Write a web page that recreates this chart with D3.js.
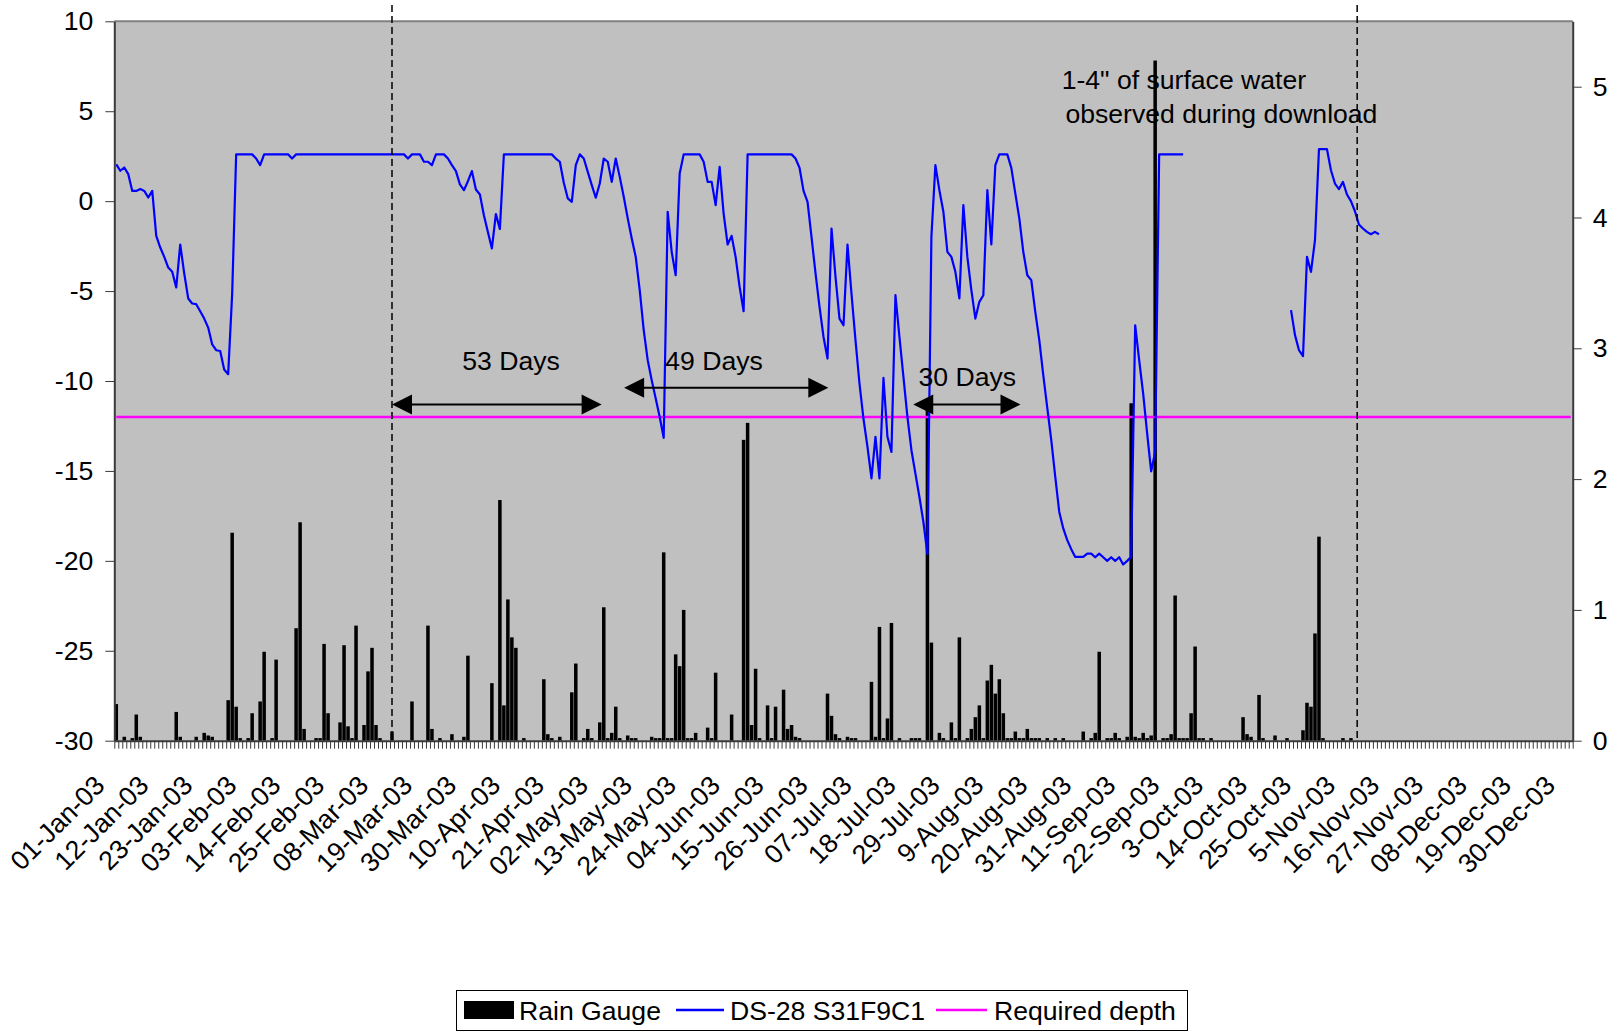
<!DOCTYPE html>
<html><head><meta charset="utf-8">
<script src="https://cdn.jsdelivr.net/npm/d3@7"></script>
<style>
body{margin:0;background:#fff}
svg{display:block}
text{font-family:"Liberation Sans",Arial,sans-serif;fill:#000}
</style>
</head><body>
<svg id="c" width="1621" height="1034"></svg>
<script>
// ---------- DATA ----------
// Daily water level (inches) for DS-28 S31F9C1, day 0 = 01-Jan-03; null = no data
const levelDepth = [
 2.04,1.69,1.87,1.5,0.57,0.57,0.67,0.57,0.2,0.57,
 -1.93,-2.58,-3.1,-3.69,-3.93,-4.8,-2.41,-4.02,-5.41,-5.69,
 -5.73,-6.12,-6.53,-7.03,-7.97,-8.29,-8.33,-9.36,-9.62,-5.14,
 2.6,2.6,2.6,2.6,2.6,2.37,2.0,2.6,2.6,2.6,
 2.6,2.6,2.6,2.6,2.37,2.6,2.6,2.6,2.6,2.6,
 2.6,2.6,2.6,2.6,2.6,2.6,2.6,2.6,2.6,2.6,
 2.6,2.6,2.6,2.6,2.6,2.6,2.6,2.6,2.6,2.6,
 2.6,2.6,2.6,2.37,2.6,2.6,2.6,2.19,2.19,2.0,
 2.6,2.6,2.6,2.37,2.0,1.67,0.93,0.61,1.11,1.67,
 0.65,0.37,-0.78,-1.71,-2.63,-0.72,-1.54,2.6,2.6,2.6,
 2.6,2.6,2.6,2.6,2.6,2.6,2.6,2.6,2.6,2.6,
 2.37,2.19,1.02,0.15,-0.04,2.0,2.6,2.37,1.63,0.89,
 0.19,0.98,2.37,2.19,1.07,2.37,1.35,0.24,-0.96,-2.08,
 -3.1,-4.95,-7.17,-8.84,-9.96,-10.97,-12.0,-13.16,-0.59,-2.82,
 -4.12,1.54,2.6,2.6,2.6,2.6,2.6,2.19,1.07,1.07,
 -0.22,1.91,-0.69,-2.41,-1.93,-3.1,-4.77,-6.12,2.6,2.6,
 2.6,2.6,2.6,2.6,2.6,2.6,2.6,2.6,2.6,2.6,
 2.37,1.85,0.57,-0.04,-2.0,-4.02,-5.88,-7.55,-8.75,-1.52,
 -4.21,-6.53,-6.9,-2.41,-5.14,-7.73,-10.14,-12.1,-13.66,-15.42,
 -13.1,-15.42,-9.83,-13.1,-13.94,-5.23,-7.55,-9.77,-12.0,-13.85,
 -15.15,-16.45,-17.84,-19.63,-1.98,2.0,0.61,-0.59,-2.82,-3.1,
 -3.93,-5.41,-0.22,-3.1,-4.95,-6.53,-5.6,-5.23,0.61,-2.41,
 2.0,2.6,2.6,2.6,1.85,0.43,-0.96,-2.82,-4.12,-4.39,
 -6.16,-7.73,-9.68,-11.5,-13.29,-15.33,-17.28,-18.2,-18.85,-19.35,
 -19.78,-19.78,-19.78,-19.6,-19.6,-19.8,-19.6,-19.8,-20.0,-19.8,
 -20.0,-19.8,-20.2,-20.0,-19.78,-6.9,-8.84,-10.7,-12.92,-15.02,
 -13.94,2.6,2.6,2.6,2.6,2.6,2.6,2.6,null,null,
 null,null,null,null,null,null,null,null,null,null,
 null,null,null,null,null,null,null,null,null,null,
 null,null,null,null,-6.06,-7.45,-8.29,-8.62,-3.1,-3.93,
 -2.17,2.89,2.89,2.89,1.72,0.98,0.67,1.07,0.37,0.0,
 -0.56,-1.3,-1.52,-1.71,-1.84,-1.71,-1.84
];
// Rain gauge (inches): day index and daily total
const rainDay = [0,2,4,5,6,15,16,20,22,23,24,28,29,30,31,33,34,36,37,39,40,45,46,47,50,51,52,53,56,57,58,59,60,62,63,64,65,66,69,74,
 78,79,81,84,87,88,94,96,97,98,99,100,102,107,108,109,111,114,115,117,118,119,121,122,123,124,125,126,128,129,130,134,135,136,137,138,139,140,141,142,143,144,145,148,149,150,154,157,158,159,160,161,163,164,165,167,168,169,170,171,
 178,179,180,181,183,184,185,189,190,191,192,193,194,196,199,200,201,203,204,206,207,209,210,211,213,214,215,216,217,218,219,220,221,222,223,224,225,226,227,228,229,230,231,233,235,237,
 242,244,245,246,248,249,250,251,253,254,255,256,257,258,259,260,262,263,264,265,266,267,268,269,270,271,272,274,282,283,284,286,287,290,293,297,298,299,300,301,302,307,309];
const rainInches = [0.28,0.03,0.02,0.2,0.03,0.22,0.03,0.03,0.06,0.04,0.03,0.31,1.59,0.26,0.02,0.02,0.21,0.3,0.68,0.02,0.62,0.86,1.67,0.09,0.02,0.02,0.74,0.21,0.14,0.73,0.11,0.02,0.88,0.12,0.53,0.71,0.12,0.02,0.07,0.3,
 0.88,0.09,0.02,0.05,0.03,0.65,0.44,1.84,0.27,1.08,0.79,0.71,0.02,0.47,0.05,0.02,0.03,0.37,0.59,0.02,0.09,0.02,0.14,1.02,0.02,0.06,0.26,0.02,0.04,0.02,0.02,0.03,0.02,0.02,1.44,0.02,0.02,0.66,0.57,1.0,0.02,0.02,0.06,0.1,0.02,0.52,0.2,2.3,2.43,0.12,0.55,0.02,0.27,0.02,0.26,0.39,0.09,0.12,0.03,0.02,
 0.36,0.19,0.05,0.02,0.03,0.02,0.02,0.45,0.03,0.87,0.02,0.17,0.9,0.02,0.02,0.02,0.02,2.53,0.75,0.06,0.02,0.14,0.02,0.79,0.02,0.09,0.18,0.27,0.02,0.46,0.58,0.36,0.47,0.21,0.02,0.02,0.07,0.02,0.02,0.09,0.02,0.02,0.02,0.02,0.02,0.02,
 0.07,0.02,0.06,0.68,0.02,0.02,0.06,0.02,0.03,2.58,0.03,0.02,0.06,0.02,0.04,5.2,0.02,0.02,0.05,1.11,0.02,0.02,0.02,0.21,0.72,0.02,0.02,0.02,0.18,0.05,0.03,0.35,0.02,0.04,0.02,0.08,0.29,0.26,0.82,1.56,0.02,0.02,0.02];
const requiredDepth = -12;
const tickLabels = ["01-Jan-03","12-Jan-03","23-Jan-03","03-Feb-03","14-Feb-03","25-Feb-03","08-Mar-03","19-Mar-03","30-Mar-03","10-Apr-03","21-Apr-03","02-May-03","13-May-03","24-May-03","04-Jun-03","15-Jun-03","26-Jun-03","07-Jul-03","18-Jul-03","29-Jul-03","9-Aug-03","20-Aug-03","31-Aug-03","11-Sep-03","22-Sep-03","3-Oct-03","14-Oct-03","25-Oct-03","5-Nov-03","16-Nov-03","27-Nov-03","08-Dec-03","19-Dec-03","30-Dec-03"];
const leftTicks = [10,5,0,-5,-10,-15,-20,-25,-30];
const rightTicks = [0,1,2,3,4,5];
const seriesNames = ["Rain Gauge","DS-28 S31F9C1","Required depth"];
const spanLabels = ["53 Days","49 Days","30 Days"];
const noteLines = ["1-4\" of surface water"," observed during download"];

// ---------- LAYOUT ----------
const m = {left:114.3, right:1572.7, top:21.3, bottom:740.7};
const FS = 26.6;
const svg = d3.select("#c");
const days = d3.range(365);
const x = d3.scaleBand().domain(days).range([m.left, m.right]).padding(0);
const bw = x.bandwidth();
const xPos = d3.scaleLinear().domain([0,365]).range([m.left, m.right]);
const yL = d3.scaleLinear().domain([-30,10]).range([m.bottom, m.top]);
const yR = d3.scaleLinear().domain([0,5.5]).range([m.bottom, m.top]);
const plain = d => String(d); // hyphen-minus like the original

// plot background
svg.append("rect").attr("x",m.left).attr("y",m.top).attr("width",m.right-m.left).attr("height",m.bottom-m.top).attr("fill","#c0c0c0");
svg.append("line").attr("x1",m.left).attr("x2",m.right).attr("y1",m.top).attr("y2",m.top).attr("stroke","#808080").attr("stroke-width",2);

// rain bars
svg.append("g").selectAll("rect").data(rainDay).join("rect")
  .attr("x",(d)=>x(d)+bw*0.06).attr("width",bw*0.88)
  .attr("y",(d,i)=>yR(rainInches[i])).attr("height",(d,i)=>yR(0)-yR(rainInches[i]))
  .attr("fill","#000");

// required depth
svg.append("path").datum(days)
  .attr("d", d3.line().x(d=>x(d)+bw/2).y(()=>yL(requiredDepth)))
  .attr("fill","none").attr("stroke","#ff00ff").attr("stroke-width",2.5);

// water level
svg.append("path").datum(levelDepth)
  .attr("d", d3.line().defined(v=>v!==null).x((v,i)=>x(i)+bw/2).y(v=>yL(v)))
  .attr("fill","none").attr("stroke","#0000ff").attr("stroke-width",2.2).attr("stroke-linejoin","round");

// axes
const axL = svg.append("g").attr("transform",`translate(${m.left},0)`)
  .call(d3.axisLeft(yL).tickValues(leftTicks).tickFormat(plain).tickSize(9).tickPadding(12).tickSizeOuter(0));
const axR = svg.append("g").attr("transform",`translate(${m.right},0)`)
  .call(d3.axisRight(yR).tickValues(rightTicks).tickFormat(plain).tickSize(9).tickPadding(11).tickSizeOuter(0));
const axB = svg.append("g").attr("transform",`translate(0,${m.bottom})`)
  .call(d3.axisBottom(xPos).tickValues(d3.range(0,366)).tickSize(8).tickFormat("").tickSizeOuter(0));
[axL,axR,axB].forEach(a=>{
  a.select(".domain").attr("stroke","#3a3a3a").attr("stroke-width",2);
  a.selectAll(".tick line").attr("stroke","#3a3a3a").attr("stroke-width",1);
  a.selectAll("text").attr("font-size",FS).attr("font-family","Liberation Sans, Arial, sans-serif").attr("fill","#000");
});

// x category labels (every 11 days)
svg.append("g").selectAll("text").data(tickLabels).join("text")
  .attr("transform",(t,i)=>`translate(${x(i*11)+bw/2-10},787) rotate(-45)`)
  .attr("text-anchor","end").attr("font-size",FS).text(t=>t);

// dashed period markers
const markerDays = [69.5, 311.06];
svg.append("g").selectAll("line").data(markerDays).join("line")
  .attr("x1",d=>xPos(d)).attr("x2",d=>xPos(d)).attr("y1",5).attr("y2",m.bottom)
  .attr("stroke","#000").attr("stroke-width",1.5).attr("stroke-dasharray","7,4");

// span arrows
const spans = [
  {from:69.5, to:121.97, y:-11.30, tx:99.3, ty:-9.39},
  {from:127.6, to:178.7, y:-10.37, tx:150.1, ty:-9.39},
  {from:199.95, to:226.8, y:-11.30, tx:213.5, ty:-10.28}
];
const ga = svg.append("g");
spans.forEach((s,i)=>{
  const x1 = xPos(s.from), x2 = xPos(s.to), yy = yL(s.y);
  ga.append("line").attr("x1",x1+10).attr("x2",x2-10).attr("y1",yy).attr("y2",yy).attr("stroke","#000").attr("stroke-width",2);
  ga.append("path").attr("d",`M${x1},${yy}L${x1+20},${yy-10}L${x1+20},${yy+10}Z`).attr("fill","#000");
  ga.append("path").attr("d",`M${x2},${yy}L${x2-20},${yy-10}L${x2-20},${yy+10}Z`).attr("fill","#000");
  ga.append("text").attr("x",xPos(s.tx)).attr("y",yL(s.ty)).attr("text-anchor","middle").attr("font-size",FS).text(spanLabels[i]);
});

// surface water note
const notePos = [{d:237.1, v:6.22},{d:236.2, v:4.36}];
svg.append("g").selectAll("text").data(noteLines).join("text")
  .attr("x",(t,i)=>xPos(notePos[i].d)).attr("y",(t,i)=>yL(notePos[i].v))
  .attr("font-size",FS).attr("xml:space","preserve").style("white-space","pre").text(t=>t);

// legend
const lg = svg.append("g");
lg.append("rect").attr("x",456.5).attr("y",990.5).attr("width",731).attr("height",40).attr("fill","#fff").attr("stroke","#000").attr("stroke-width",1);
lg.append("rect").attr("x",464).attr("y",1001).attr("width",50).attr("height",18).attr("fill","#000");
lg.append("text").attr("x",519).attr("y",1020).attr("font-size",FS).text(seriesNames[0]);
lg.append("line").attr("x1",676).attr("x2",724).attr("y1",1010).attr("y2",1010).attr("stroke","#0000ff").attr("stroke-width",2.5);
lg.append("text").attr("x",730).attr("y",1020).attr("font-size",FS).text(seriesNames[1]);
lg.append("line").attr("x1",936).attr("x2",987).attr("y1",1010).attr("y2",1010).attr("stroke","#ff00ff").attr("stroke-width",2.5);
lg.append("text").attr("x",994).attr("y",1020).attr("font-size",FS).text(seriesNames[2]);
</script>
</body></html>
